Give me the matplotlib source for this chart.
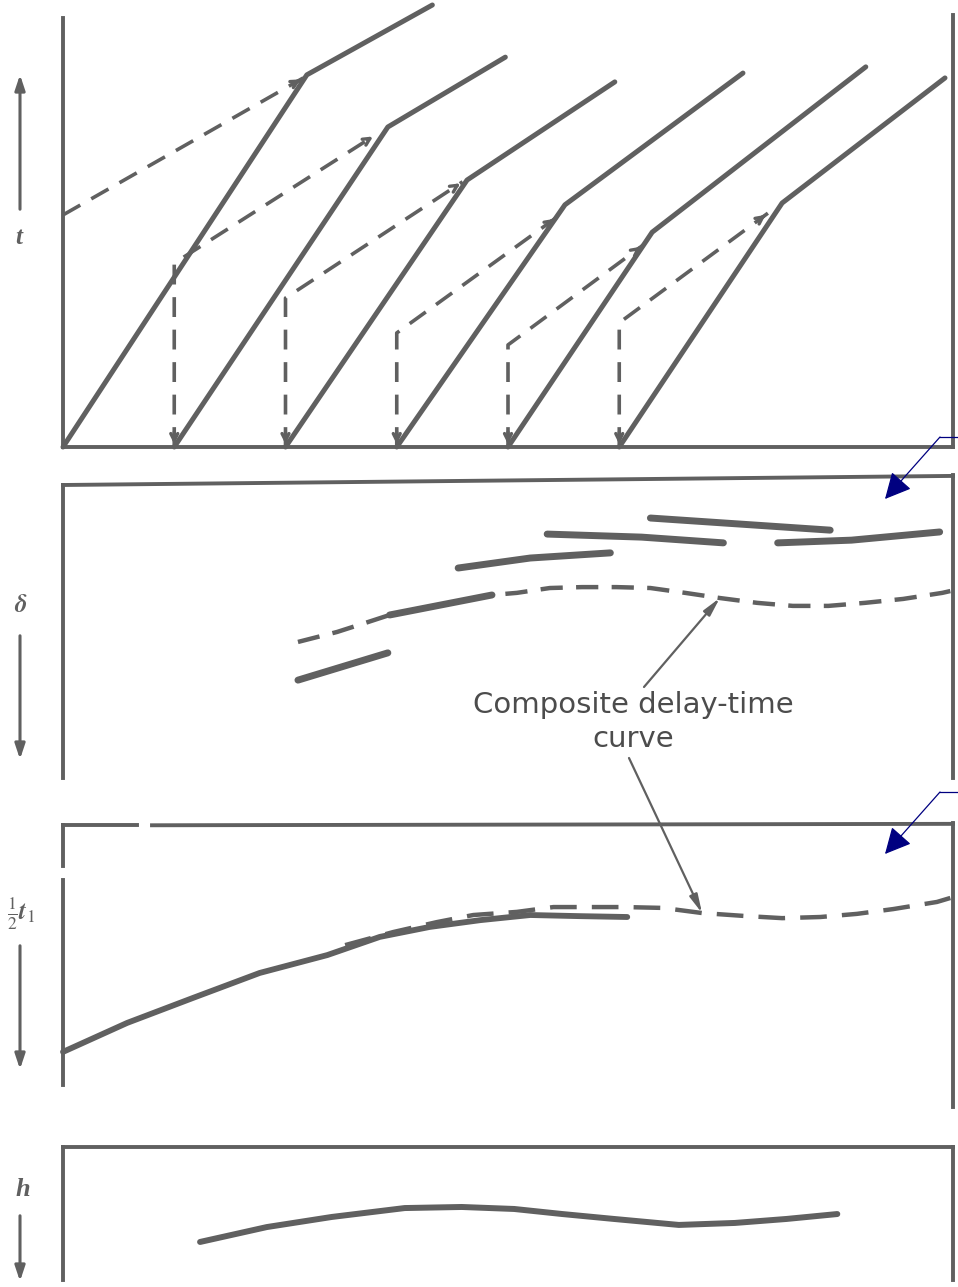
import matplotlib
matplotlib.use('Agg')
import matplotlib.pyplot as plt

plt.rcParams['font.family'] = ['Liberation Serif', 'DejaVu Serif']
plt.rcParams['mathtext.fontset'] = 'stix'

INK = '#606060'
NAVY = '#000080'
W, H = 958, 1287

# panel 1 - travel time curves (distance 0-100, t 0-100)
shot_x = [0, 12.5, 25, 37.5, 50, 62.5]
bend_x = [27.4, 36.5, 45.4, 56.4, 66.2, 80.8]
bend_t = [84.2, 72.4, 60.4, 54.8, 48.6, 55.2]
end_x = [41.5, 49.7, 62.0, 76.4, 90.2, 99.1]
end_t = [100, 88.2, 82.6, 84.6, 86.0, 83.5]
# dashed construction lines
dash_top_t = [52.5, 41.6, 33.7, 25.8, 23.1, 28.1]
dash_end_x = [27.0, 35.1, 44.9, 55.5, 65.2, 79.2]
dash_end_t = [83.5, 70.6, 60.0, 52.0, 45.7, 52.9]

# panel 2 - delay times (0 at top)
seg_a_x = [26.4, 36.5]
seg_a_d = [67.7, 58.7]
seg_b_x = [44.4, 52.5, 61.5]
seg_b_d = [30.7, 27.4, 25.7]
seg_c_x = [54.4, 65.0, 74.2]
seg_c_d = [19.5, 20.5, 22.4]
seg_d_x = [66.0, 86.2]
seg_d_d = [14.2, 18.2]
seg_e_x = [80.3, 88.6, 98.5]
seg_e_d = [22.4, 21.5, 18.8]
comp_x = [26.4, 30.8, 34.3, 36.7, 48.2, 51.0, 54.7, 58.3, 62.2, 66.0, 69.9, 73.8,
          78.0, 82.0, 86.0, 90.1, 94.4, 98.8, 99.7]
comp_d = [55.1, 51.8, 48.5, 46.2, 39.6, 38.9, 37.3, 37.0, 37.0, 37.3, 38.9, 40.6,
          42.2, 43.2, 43.2, 42.2, 40.9, 38.9, 38.3]

# panel 3 - half intercept time
half_x = [0, 7.2, 14.6, 22.1, 29.7, 35.6, 41.2, 46.9, 52.5, 58.1, 63.4]
half_u = [80.6, 70.4, 61.6, 52.8, 46.5, 40.1, 36.6, 34.2, 32.4, 32.8, 33.1]
half_dash_x = [31.7, 37.1, 42.0, 46.1, 51.0, 55.1, 59.0, 63.1, 67.4, 71.8, 76.4,
               80.8, 85.1, 89.2, 93.3, 98.2, 99.7]
half_dash_u = [43.0, 38.4, 34.9, 32.4, 31.3, 29.6, 29.6, 29.6, 29.9, 31.7, 32.7,
               33.5, 33.1, 32.0, 30.3, 27.8, 26.4]

# panel 4 - depth h
h_x = [15.4, 22.9, 30.2, 38.4, 44.8, 50.7, 56.1, 61.9, 69.2, 75.5, 81.3, 87.0]
h_v = [71.4, 60.2, 52.6, 45.9, 45.1, 46.6, 50.4, 54.1, 58.6, 57.1, 54.1, 50.4]


def box(l, t, r, b):
    return [l / W, 1 - b / H, (r - l) / W, (b - t) / H]


fig = plt.figure(figsize=(W / 100, H / 100), dpi=100)
fig.patch.set_facecolor('white')

ax1 = fig.add_axes(box(63, 5, 953, 447))
ax2 = fig.add_axes(box(63, 475, 953, 778))
ax3 = fig.add_axes(box(63, 823, 953, 1107))
ax4 = fig.add_axes(box(63, 1147, 953, 1280))
ov = fig.add_axes([0, 0, 1, 1], zorder=10)
ov.set_xlim(0, W)
ov.set_ylim(H, 0)
ov.axis('off')
ov.patch.set_visible(False)

for ax in (ax1, ax2, ax3, ax4):
    ax.set_xlim(0, 100)
    ax.set_xticks([])
    ax.set_yticks([])
    ax.patch.set_visible(False)
    for s in ax.spines.values():
        s.set_color(INK)
        s.set_linewidth(2.8)
ax1.set_ylim(0, 100)
for ax in (ax2, ax3, ax4):
    ax.set_ylim(100, 0)

# panel 1 frame
ax1.spines['top'].set_visible(False)
ax1.spines['left'].set_bounds(0, 97.1)
ax1.spines['right'].set_bounds(0, 97.7)

solid = dict(color=INK, lw=3.6, solid_capstyle='round', solid_joinstyle='round', clip_on=False)
dashed = dict(color=INK, lw=2.6, dashes=(5.5, 3.5), clip_on=False)
head = dict(arrowstyle='->,head_length=0.5,head_width=0.25', color=INK, lw=2.4)

for i in range(6):
    ax1.plot([shot_x[i], bend_x[i], end_x[i]], [0, bend_t[i], end_t[i]], **solid)
    if i > 0:
        ax1.plot([shot_x[i], shot_x[i], dash_end_x[i]], [0, dash_top_t[i], dash_end_t[i]], **dashed)
        ax1.annotate('', xy=(shot_x[i], 0), xytext=(shot_x[i], 4), arrowprops=head)
    else:
        ax1.plot([shot_x[i], dash_end_x[i]], [dash_top_t[i], dash_end_t[i]], **dashed)
    dx = dash_end_x[i] - shot_x[i]
    dt = dash_end_t[i] - dash_top_t[i]
    ax1.annotate('', xy=(dash_end_x[i], dash_end_t[i]),
                 xytext=(dash_end_x[i] - dx * 0.05, dash_end_t[i] - dt * 0.05), arrowprops=head)

# panel 2 frame (top edge is slightly tilted in the original)
ax2.spines['top'].set_visible(False)
ax2.spines['bottom'].set_visible(False)
ax2.spines['left'].set_bounds(3.3, 100)
ax2.plot([0, 1], [0.967, 0.997], transform=ax2.transAxes, color=INK, lw=2.8,
         clip_on=False, solid_capstyle='projecting')

thick = dict(color=INK, lw=5, solid_capstyle='round', clip_on=False)
for xs, ds in ((seg_a_x, seg_a_d), (seg_b_x, seg_b_d), (seg_c_x, seg_c_d),
               (seg_d_x, seg_d_d), (seg_e_x, seg_e_d)):
    ax2.plot(xs, ds, **thick)
ax2.plot(comp_x, comp_d, color=INK, lw=3.2, dashes=(5, 3), clip_on=False)
ax2.plot(comp_x[3:5], comp_d[3:5], **thick)

# panel 3 frame with small gaps, as in the scan
ax3.spines['top'].set_visible(False)
ax3.spines['left'].set_visible(False)
ax3.spines['bottom'].set_visible(False)
fr = dict(color=INK, lw=2.8, clip_on=False)
ax3.plot([0, 8.3], [0.8, 0.8], **fr)
ax3.plot([10.0, 100], [0.8, 0.3], **fr)
ax3.plot([0, 0], [0.8, 15.1], **fr)
ax3.plot([0, 0], [20.1, 92.3], **fr)

ax3.plot(half_x, half_u, color=INK, lw=4.2, solid_capstyle='round',
         solid_joinstyle='round', clip_on=False)
ax3.plot(half_dash_x, half_dash_u, color=INK, lw=3.2, dashes=(6, 3.4), clip_on=False)

# panel 4
ax4.spines['bottom'].set_visible(False)
ax4.plot(h_x, h_v, color=INK, lw=4.3, solid_capstyle='round', solid_joinstyle='round',
         clip_on=False)

# axis arrows and labels on the left
larrow = dict(arrowstyle='-|>,head_length=0.9,head_width=0.3', color=INK, lw=2.2)
ov.annotate('', xy=(20, 72), xytext=(20, 212), arrowprops=larrow)
ov.annotate('', xy=(20, 762), xytext=(20, 633), arrowprops=larrow)
ov.annotate('', xy=(20, 1072), xytext=(20, 943), arrowprops=larrow)
ov.annotate('', xy=(20, 1284), xytext=(20, 1213), arrowprops=larrow)
lab = dict(color=INK, ha='center', va='center', fontsize=18, style='italic',
           fontweight='bold')
ov.text(19, 237, 't', **lab)
ov.text(21, 606, r'$\boldsymbol{\delta}$', **lab)
ov.text(21, 914, r'$\frac{1}{2}\boldsymbol{t}_1$', color=INK, ha='center', va='center',
        fontsize=18)
ov.text(23, 1190, 'h', color=INK, ha='center', va='center', fontsize=19,
        style='italic', fontweight='bold')

# composite delay-time annotation
note = dict(color='#4c4c4c', ha='center', va='center', fontsize=21, family='DejaVu Sans')
ov.text(633, 705, 'Composite delay-time', **note)
ov.text(633, 739, 'curve', **note)
parrow = dict(arrowstyle='-|>,head_length=1.1,head_width=0.25', color=INK, lw=1.6,
              shrinkA=0, shrinkB=0)
ax2.annotate('', xy=(comp_x[11], comp_d[11]), xycoords='data', xytext=(644, 687),
             textcoords=ov.transData, arrowprops=parrow)
ax3.annotate('', xy=(half_dash_x[9], half_dash_u[9]), xycoords='data', xytext=(629, 758),
             textcoords=ov.transData, arrowprops=parrow)

# blue pointer arrows at the right
barrow = dict(arrowstyle='-|>,head_length=0.9,head_width=0.45', color=NAVY, lw=0.9,
              shrinkA=0, shrinkB=0, mutation_scale=18)
for y0 in (437, 792):
    ov.plot([958, 940], [y0, y0], color=NAVY, lw=0.9)
    ov.annotate('', xy=(885, y0 + 62), xytext=(940, y0), arrowprops=barrow)

fig.savefig('out.png', dpi=100, facecolor='white')
